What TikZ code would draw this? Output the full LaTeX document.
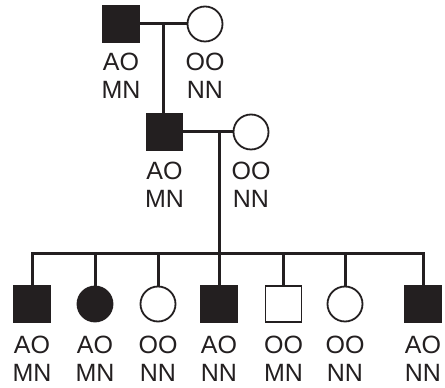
\documentclass[tikz,border=0pt]{standalone}
\usepackage{fontspec}
\setmainfont{Liberation Sans}
\usetikzlibrary{positioning, calc}
\definecolor{ink}{HTML}{231F20}

\begin{document}
\begin{tikzpicture}[
  x=1pt, y=1pt,
  male/.style={draw=ink, line width=1.8pt, minimum size=36pt, inner sep=0pt},
  female/.style={circle, draw=ink, line width=1.8pt, minimum size=35pt, inner sep=0pt},
  aff/.style={fill=ink},
  geno/.style={align=center, inner sep=0pt, text=ink, font=\fontsize{25}{28}\selectfont},
  link/.style={draw=ink, line width=3pt},
  node distance=10pt
]
\useasboundingbox (0,0) rectangle (445,388);

% generation I
\node[male, aff] (g1m) at (121,364) {};
\node[female] (g1f) at (205,364) {};
\node[geno, below=of g1m] (l1m) {AO\\MN};
\node[geno, below=of g1f] (l1f) {OO\\NN};

% generation II
\node[male, aff] (g2m) at (164.5,256) {};
\node[female] (g2f) at (251,256) {};
\node[geno, below=11pt of g2m] (l2m) {AO\\MN};
\node[geno, below=11pt of g2f] (l2f) {OO\\NN};

% generation III
\node[male, aff] (k1) at (32,84) {};
\node[female, aff] (k2) at (95,84) {};
\node[female] (k3) at (158,84) {};
\node[male, aff] (k4) at (219,84) {};
\node[male] (k5) at (283.5,84) {};
\node[female] (k6) at (345,84) {};
\node[male, aff] (k7) at (423,84) {};
\node[geno, below=13pt of k1] (l3a) {AO\\MN};
\node[geno, below=13pt of k2] (l3b) {AO\\MN};
\node[geno, below=13pt of k3] (l3c) {OO\\NN};
\node[geno, below=13pt of k4] (l3d) {AO\\NN};
\node[geno, below=13pt of k5] (l3e) {OO\\MN};
\node[geno, below=13pt of k6] (l3f) {OO\\NN};
\node[geno, below=13pt of k7] (l3g) {AO\\NN};

% marriages and descent
\coordinate (c1) at ($(g1m)!.5!(g1f)$);
\coordinate (c2) at (219,256);
\coordinate (sib) at (219,134);
\draw[link] (g1m) -- (g1f);
\draw[link] (c1) -- (c1 |- g2m.north);
\draw[link] (g2m) -- (g2f);
\draw[link] (c2) -- (sib);
\draw[link] (k1.north) |- (sib -| k7) -- (k7.north);
\foreach \k in {2,...,6}
  \draw[link] (sib -| k\k) -- (k\k.north);
\end{tikzpicture}
\end{document}
